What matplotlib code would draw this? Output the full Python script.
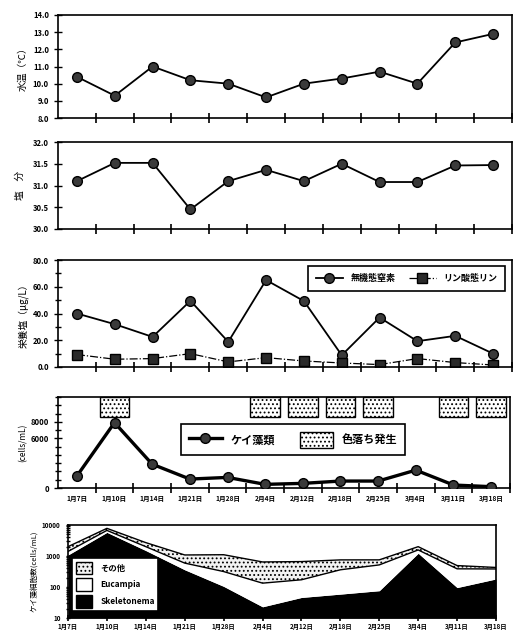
import numpy as np
import matplotlib
matplotlib.use("Agg")
import matplotlib.pyplot as plt
from matplotlib.patches import Rectangle, Patch
from matplotlib.lines import Line2D
from matplotlib.ticker import MultipleLocator, FormatStrFormatter, FixedLocator, LogLocator, NullFormatter

plt.rcParams['font.family'] = ['Noto Sans CJK JP', 'DejaVu Sans']
plt.rcParams['font.weight'] = 'bold'
plt.rcParams['hatch.linewidth'] = 0.8

# ---- data ----
dates = ["1月7日", "1月10日", "1月14日", "1月21日", "1月28日", "2月4日",
         "2月12日", "2月18日", "2月25日", "3月4日", "3月11日", "3月18日"]

water_temp = [10.4, 9.3, 11.0, 10.2, 10.0, 9.2, 10.0, 10.3, 10.7, 10.0, 12.4, 12.9]
salinity = [31.10, 31.52, 31.52, 30.45, 31.10, 31.36, 31.10, 31.50, 31.08, 31.08, 31.46, 31.47]
nitrogen = [40.0, 32.0, 22.5, 49.5, 18.8, 65.0, 49.3, 8.8, 37.0, 19.3, 23.3, 10.0]
phosphate = [9.3, 5.8, 6.3, 10.0, 3.8, 7.0, 4.5, 3.0, 1.8, 6.3, 3.3, 1.5]
diatoms = [1440, 7900, 2880, 1080, 1280, 440, 560, 840, 840, 2160, 360, 160]
discolor = [False, True, False, False, False, True, True, True, True, False, True, True]

skeletonema = [1080, 5800, 1500, 360, 105, 23, 46, 59, 76, 1230, 96, 182]
eucampia = [320, 900, 500, 230, 210, 110, 125, 300, 440, 340, 290, 200]
others = [600, 1100, 700, 490, 785, 510, 490, 390, 235, 430, 105, 45]

# ---- layout (pixel boxes) ----
W, H = 515, 636
fig = plt.figure(figsize=(W / 100, H / 100), dpi=100)


def px_axes(left, top, right, bottom):
    return fig.add_axes([left / W, 1 - bottom / H, (right - left) / W, (bottom - top) / H])


x = np.arange(len(dates))
mk = dict(marker="o", markersize=7, markerfacecolor="#3a3a3a", markeredgecolor="black",
          markeredgewidth=1.0, color="black")


def style_cat(ax):
    ax.set_xlim(-0.5, len(dates) - 0.5)
    ax.set_xticks(np.arange(0.5, len(dates), 1))
    ax.tick_params(axis="x", which="major", direction="inout", length=7, width=1.2,
                   labelbottom=False)
    ax.tick_params(axis="y", which="both", direction="inout", width=1, labelsize=5.5)
    ax.tick_params(axis="y", which="major", length=6)
    ax.tick_params(axis="y", which="minor", length=4)
    for s in ax.spines.values():
        s.set_linewidth(1.2)


# 1. water temperature
ax1 = px_axes(58, 15, 512, 118)
ax1.plot(x, water_temp, lw=1.3, **mk)
ax1.set_ylim(8, 14)
ax1.yaxis.set_major_locator(MultipleLocator(1))
ax1.yaxis.set_major_formatter(FormatStrFormatter("%.1f"))
style_cat(ax1)
ax1.set_ylabel("水温（℃）", fontsize=7, labelpad=4)

# 2. salinity
ax2 = px_axes(58, 142, 512, 229)
ax2.plot(x, salinity, lw=1.3, **mk)
ax2.set_ylim(30, 32)
ax2.yaxis.set_major_locator(MultipleLocator(0.5))
ax2.yaxis.set_major_formatter(FormatStrFormatter("%.1f"))
style_cat(ax2)
ax2.set_ylabel("塩　分", fontsize=7, labelpad=6)

# 3. nutrients
ax3 = px_axes(58, 260, 512, 367)
ax3.plot(x, nitrogen, lw=1.3, label="無機態窒素", **mk)
ax3.plot(x, phosphate, lw=0.9, ls="-.", marker="s", markersize=7, color="black",
         markerfacecolor="#2a2a2a", markeredgecolor="black", label="リン酸態リン")
ax3.set_ylim(0, 80)
ax3.yaxis.set_major_locator(MultipleLocator(20))
ax3.yaxis.set_minor_locator(MultipleLocator(10))
ax3.yaxis.set_major_formatter(FormatStrFormatter("%.1f"))
style_cat(ax3)
ax3.set_ylabel("栄養塩（μg/L）", fontsize=7, labelpad=3)
leg3 = ax3.legend(loc="upper right", ncol=2, fontsize=6.5, frameon=True, fancybox=False,
                  edgecolor="black", framealpha=1, handlelength=3, columnspacing=1.5,
                  bbox_to_anchor=(0.995, 0.985), borderpad=0.9)
leg3.get_frame().set_linewidth(1.2)

# 4. diatoms and discoloration
ax4 = px_axes(58, 397, 510, 488)
ax4.plot(x, diatoms, lw=2.4, zorder=3, **mk)
ax4.set_ylim(0, 11000)
ax4.yaxis.set_major_locator(FixedLocator([0, 6000, 8000]))
ax4.yaxis.set_minor_locator(MultipleLocator(1000))
style_cat(ax4)
ax4.set_xticks(x, minor=True)
ax4.set_xticklabels(dates, minor=True, fontsize=4.8)
ax4.tick_params(axis="x", which="minor", length=0, pad=5)
ax4.set_ylabel("(cells/mL)", fontsize=6, labelpad=2)
for i, flag in enumerate(discolor):
    if flag:
        ax4.add_patch(Rectangle((i - 0.39, 0.78), 0.78, 0.22, transform=ax4.get_xaxis_transform(),
                                facecolor="white", edgecolor="black", hatch="....", lw=1.0,
                                clip_on=False))
h4 = [Line2D([0], [0], lw=2.4, **mk),
      Patch(facecolor="white", edgecolor="black", hatch="....")]
leg4 = ax4.legend(h4, ["ケイ藻類", "色落ち発生"], loc="center", bbox_to_anchor=(0.52, 0.53),
                  ncol=2, fontsize=8, frameon=True, fancybox=False, edgecolor="black",
                  framealpha=1, handlelength=3, handleheight=1.8, columnspacing=2.2,
                  borderpad=0.7)
leg4.get_frame().set_linewidth(1.2)

# 5. species composition (stacked, log)
ax5 = px_axes(68, 525, 496, 618)
c1 = np.array(skeletonema, dtype=float)
c2 = c1 + np.array(eucampia)
c3 = c2 + np.array(others)
ax5.fill_between(x, 10, c1, facecolor="black", edgecolor="black", lw=0)
ax5.fill_between(x, c1, c2, facecolor="white", edgecolor="black", lw=0)
ax5.fill_between(x, c2, c3, facecolor="#f2f2f2", edgecolor="black", hatch="....", lw=0)
ax5.plot(x, c2, color="black", lw=1.0)
ax5.plot(x, c3, color="black", lw=1.0)
ax5.set_yscale("log")
ax5.set_ylim(10, 10000)
ax5.set_xlim(0, len(dates) - 1)
ax5.set_xticks(x)
ax5.set_xticklabels(dates, fontsize=4.5)
ax5.yaxis.set_major_locator(FixedLocator([10, 100, 1000, 10000]))
ax5.yaxis.set_major_formatter(FormatStrFormatter("%d"))
ax5.yaxis.set_minor_locator(LogLocator(base=10, subs=np.arange(2, 10)))
ax5.yaxis.set_minor_formatter(NullFormatter())
ax5.tick_params(axis="x", direction="inout", length=5, width=1.2, pad=1)
ax5.tick_params(axis="y", which="both", direction="inout", width=1, labelsize=4.5)
ax5.tick_params(axis="y", which="minor", length=3)
for s in ax5.spines.values():
    s.set_linewidth(1.2)
ax5.set_ylabel("ケイ藻細胞数(cells/mL)", fontsize=5.5, labelpad=3)
h5 = [Patch(facecolor="#f2f2f2", edgecolor="black", hatch="...."),
      Patch(facecolor="white", edgecolor="black"),
      Patch(facecolor="black", edgecolor="black")]
leg5 = ax5.legend(h5, ["その他", "Eucampia", "Skeletonema"], loc="lower left",
                  bbox_to_anchor=(0.0, 0.03), fontsize=6, frameon=True, fancybox=False,
                  edgecolor="black", framealpha=1, handlelength=2.0, handleheight=2.0,
                  labelspacing=0.45, borderpad=0.4, handletextpad=1.0)
leg5.get_frame().set_linewidth(1.2)

fig.savefig("out.png", dpi=100)
